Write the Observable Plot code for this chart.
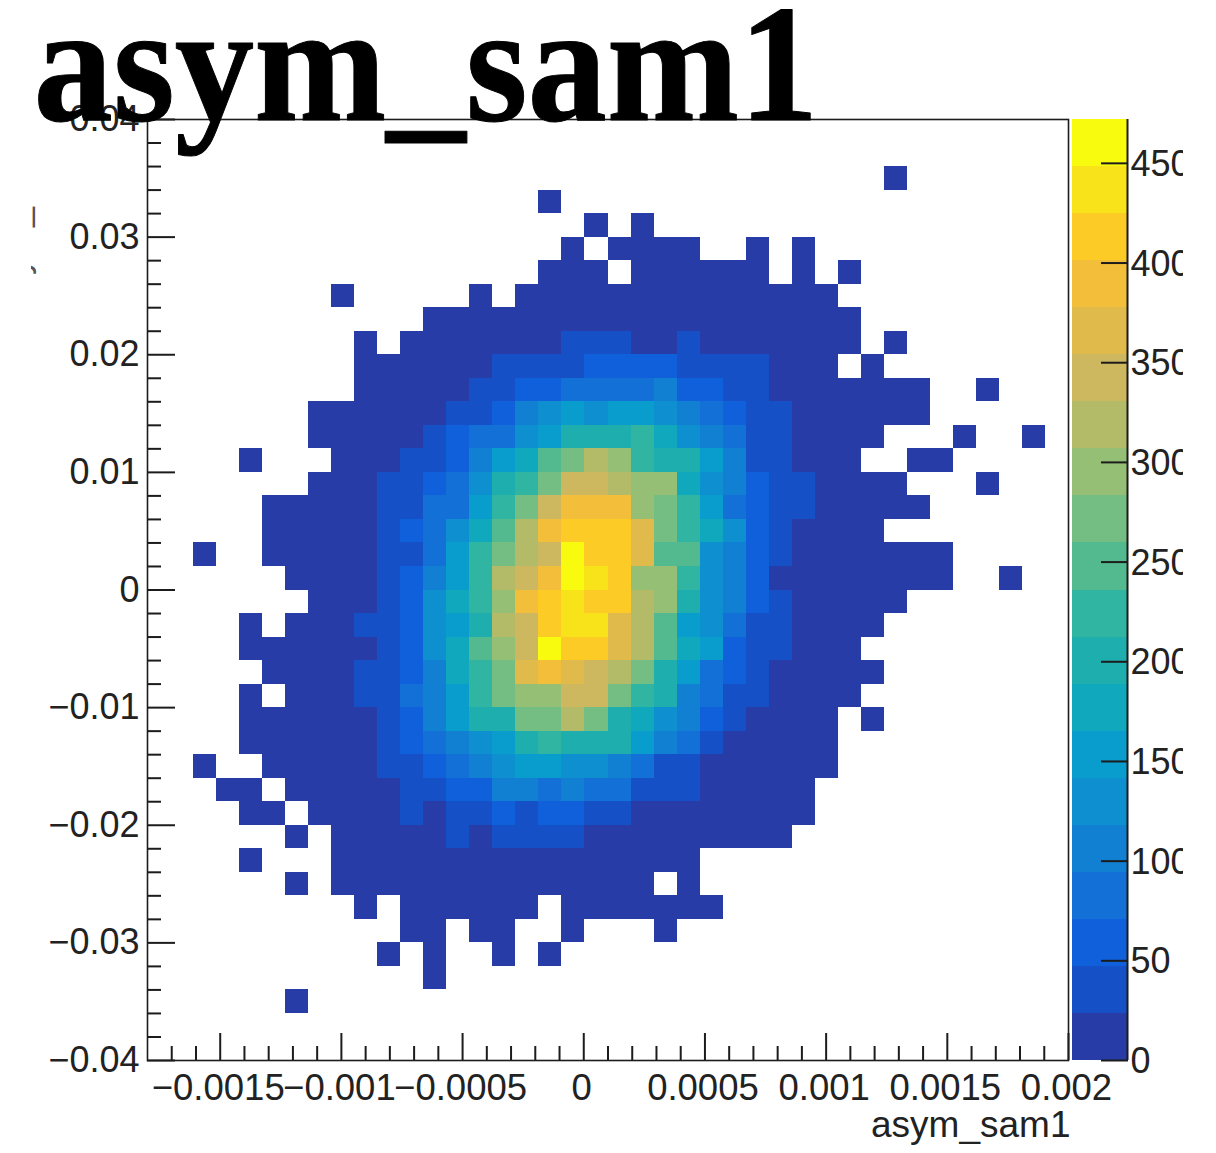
<!DOCTYPE html>
<html>
<head>
<meta charset="utf-8">
<script src="https://cdn.jsdelivr.net/npm/d3@7"></script>
<script src="https://cdn.jsdelivr.net/npm/@observablehq/plot@0.6"></script>
<style>
html,body{margin:0;padding:0;background:#fff;overflow:hidden}
#page{position:relative;width:1216px;height:1153px;overflow:hidden}
#plot,#bar,#ylab{position:absolute;overflow:hidden}
#plot{left:0;top:0}
#bar{left:1072px;top:0;width:111px;height:1153px}
#ylab{left:31px;top:100px;width:6px;height:200px}
#ylab span{position:absolute;left:-36px;top:19px;font:36px "Liberation Sans";white-space:nowrap;color:#555;transform-origin:0 0;transform:rotate(-90deg) translateX(-100%)}
</style>
</head>
<body>
<div id="page"><div id="plot"></div><div id="ylab"><span>asym_sam1</span></div><div id="bar"></div></div>
<script>
const titleText = "asym_sam1";
const xTitle = "asym_sam1";
const xMajor = [-0.0015,-0.001,-0.0005,0,0.0005,0.001,0.0015,0.002];
const xMinor = [-0.0017,-0.0016,-0.0014,-0.0013,-0.0012,-0.0011,-0.0009,-0.0008,-0.0007,-0.0006,-0.0004,-0.0003,-0.0002,-0.0001,0.0001,0.0002,0.0003,0.0004,0.0006,0.0007,0.0008,0.0009,0.0011,0.0012,0.0013,0.0014,0.0016,0.0017,0.0018,0.0019];
const yMajor = [-0.04,-0.03,-0.02,-0.01,0,0.01,0.02,0.03,0.04];
const yMinor = [-0.038,-0.036,-0.034,-0.032,-0.028,-0.026,-0.024,-0.022,-0.018,-0.016,-0.014,-0.012,-0.008,-0.006,-0.004,-0.002,0.002,0.004,0.006,0.008,0.012,0.014,0.016,0.018,0.022,0.024,0.026,0.028,0.032,0.034,0.036,0.038];
const zTicks = [0,50,100,150,200,250,300,350,400,450];
const xDomain = [-0.0018,0.002];
const yDomain = [-0.04,0.04];
const zMax = 472;
const nBins = 40;

// count of a cell in each of the 20 contour bands
const levelCounts = [12,35,59,83,106,130,153,177,200,224,248,271,295,319,342,366,389,413,436,460];
const contourLevels = [24,47,71,94,118,142,165,189,212,236,260,283,307,330,354,378,401,425,448];
const palette = ["#273ca6","#1550c6","#0f60da","#1270d6","#1180d3","#0e8fd0","#089dcc","#0fa8bd","#1eaeae","#30b5a2","#53b98f","#75be83","#96bf76","#b3bb69","#cdb75f","#e0ba4b","#f3be39","#fccb26","#f8e31b","#f9fb0e"];

// runs per row, top row first: [first bin, last bin, contour band]
const row02 = [[32,32,0]];
const row03 = [[17,17,0]];
const row04 = [[19,19,0],[21,21,0]];
const row05 = [[18,18,0],[20,23,0],[26,26,0],[28,28,0]];
const row06 = [[17,19,0],[21,26,0],[28,28,0],[30,30,0]];
const row07 = [[8,8,0],[14,14,0],[16,29,0]];
const row08 = [[12,30,0]];
const row09 = [[9,9,0],[11,17,0],[18,20,1],[21,22,0],[23,23,1],[24,30,0],[32,32,0]];
const row10 = [[9,14,0],[15,18,1],[19,22,2],[23,26,1],[27,29,0],[31,31,0]];
const row11 = [[9,13,0],[14,15,1],[16,17,2],[18,21,3],[22,22,4],[23,24,2],[25,26,1],[27,33,0],[36,36,0]];
const row12 = [[7,12,0],[13,14,1],[15,15,2],[16,16,4],[17,17,5],[18,18,6],[19,19,5],[20,21,6],[22,22,5],[23,23,4],[24,24,3],[25,25,2],[26,27,1],[28,33,0]];
const row13 = [[7,11,0],[12,12,1],[13,13,2],[14,15,3],[16,16,5],[17,17,6],[18,20,8],[21,21,9],[22,22,7],[23,23,5],[24,24,4],[25,25,3],[26,27,1],[28,31,0],[35,35,0],[38,38,0]];
const row14 = [[4,4,0],[8,10,0],[11,12,1],[13,13,2],[14,14,4],[15,15,6],[16,16,7],[17,17,10],[18,18,11],[19,19,13],[20,20,12],[21,21,9],[22,23,8],[24,24,6],[25,25,4],[26,27,1],[28,30,0],[33,34,0]];
const row15 = [[7,9,0],[10,11,1],[12,12,2],[13,13,3],[14,14,5],[15,15,8],[16,16,9],[17,17,11],[18,19,14],[20,20,13],[21,22,12],[23,23,7],[24,24,5],[25,25,4],[26,26,2],[27,28,1],[29,32,0],[36,36,0]];
const row16 = [[5,9,0],[10,11,1],[12,12,3],[13,13,3],[14,14,6],[15,15,9],[16,16,11],[17,17,14],[18,20,16],[21,21,12],[22,22,11],[23,23,9],[24,24,6],[25,25,3],[26,26,2],[27,28,1],[29,33,0]];
const row17 = [[5,9,0],[10,10,1],[11,11,2],[12,12,3],[13,13,5],[14,14,7],[15,15,10],[16,16,13],[17,17,16],[18,20,17],[21,21,15],[22,22,11],[23,23,9],[24,24,7],[25,25,5],[26,26,2],[27,27,1],[28,31,0]];
const row18 = [[2,2,0],[5,9,0],[10,11,1],[12,12,3],[13,13,6],[14,14,9],[15,15,11],[16,16,13],[17,17,14],[18,18,19],[19,20,17],[21,21,15],[22,23,10],[24,24,5],[25,25,4],[26,26,2],[27,27,1],[28,34,0]];
const row19 = [[6,9,0],[10,10,1],[11,11,2],[12,12,4],[13,13,6],[14,14,9],[15,15,13],[16,16,14],[17,17,16],[18,18,19],[19,19,18],[20,20,17],[21,22,12],[23,23,9],[24,24,5],[25,25,4],[26,26,2],[27,34,0],[37,37,0]];
const row20 = [[7,9,0],[10,10,1],[11,11,2],[12,12,5],[13,13,7],[14,14,9],[15,15,12],[16,16,16],[17,17,17],[18,18,18],[19,20,17],[21,21,13],[22,22,12],[23,23,8],[24,24,5],[25,25,4],[26,26,2],[27,27,1],[28,32,0]];
const row21 = [[4,4,0],[6,8,0],[9,10,1],[11,11,2],[12,12,5],[13,13,6],[14,14,8],[15,15,13],[16,16,14],[17,17,17],[18,19,18],[20,20,15],[21,21,13],[22,22,10],[23,23,6],[24,24,5],[25,25,3],[26,27,1],[28,31,0]];
const row22 = [[4,9,0],[10,10,1],[11,11,2],[12,12,5],[13,13,7],[14,14,10],[15,15,12],[16,16,14],[17,17,19],[18,19,17],[20,20,15],[21,21,13],[22,22,10],[23,23,7],[24,24,6],[25,25,2],[26,27,1],[28,30,0]];
const row23 = [[5,8,0],[9,10,1],[11,11,2],[12,12,4],[13,13,7],[14,14,9],[15,15,11],[16,16,15],[17,17,16],[18,18,15],[19,19,14],[20,20,13],[21,21,11],[22,22,8],[23,23,6],[24,24,3],[25,25,2],[26,26,1],[27,31,0]];
const row24 = [[4,4,0],[6,8,0],[9,10,1],[11,11,3],[12,12,4],[13,13,6],[14,14,9],[15,15,11],[16,17,12],[18,19,14],[20,20,11],[21,21,9],[22,22,8],[23,23,4],[24,24,3],[25,26,1],[27,30,0]];
const row25 = [[4,9,0],[10,10,1],[11,11,2],[12,12,4],[13,13,6],[14,15,8],[16,17,11],[18,18,13],[19,19,11],[20,20,8],[21,21,7],[22,22,5],[23,23,4],[24,24,2],[25,25,1],[26,29,0],[31,31,0]];
const row26 = [[4,9,0],[10,10,1],[11,11,2],[12,12,3],[13,13,4],[14,14,5],[15,15,6],[16,16,8],[17,17,9],[18,20,8],[21,21,6],[22,22,4],[23,23,3],[24,24,1],[25,29,0]];
const row27 = [[2,2,0],[5,9,0],[10,11,1],[12,12,2],[13,13,3],[14,14,4],[15,15,5],[16,17,6],[18,19,5],[20,20,4],[21,21,3],[22,23,1],[24,29,0]];
const row28 = [[3,4,0],[6,10,0],[11,12,1],[13,14,2],[15,16,4],[17,17,3],[18,18,4],[19,20,3],[21,23,1],[24,28,0]];
const row29 = [[4,5,0],[7,10,0],[11,11,1],[12,12,0],[13,14,1],[15,15,2],[16,16,1],[17,18,2],[19,20,1],[21,28,0]];
const row30 = [[6,6,0],[8,12,0],[13,13,1],[14,14,0],[15,18,1],[19,27,0]];
const row31 = [[4,4,0],[8,23,0]];
const row32 = [[6,6,0],[8,21,0],[23,23,0]];
const row33 = [[9,9,0],[11,16,0],[18,24,0]];
const row34 = [[11,12,0],[14,15,0],[18,18,0],[22,22,0]];
const row35 = [[10,10,0],[12,12,0],[15,15,0],[17,17,0]];
const row36 = [[12,12,0]];
const row37 = [[6,6,0]];

const rows = {2:row02,3:row03,4:row04,5:row05,6:row06,7:row07,8:row08,9:row09,10:row10,11:row11,12:row12,13:row13,14:row14,15:row15,16:row16,17:row17,18:row18,19:row19,20:row20,21:row21,22:row22,23:row23,24:row24,25:row25,26:row26,27:row27,28:row28,29:row29,30:row30,31:row31,32:row32,33:row33,34:row34,35:row35,36:row36,37:row37};

const dx = (xDomain[1]-xDomain[0])/nBins, dy = (yDomain[1]-yDomain[0])/nBins;
const cells = [];
for (const [r, runs] of Object.entries(rows)) {
  for (const [first, last, band] of runs) {
    for (let c = first; c <= last; c++) {
      cells.push({
        x1: xDomain[0]+c*dx, x2: xDomain[0]+(c+1)*dx,
        y1: yDomain[1]-(+r)*dy, y2: yDomain[1]-(+r+1)*dy,
        count: levelCounts[band]
      });
    }
  }
}
const colorScale = {type:"threshold", domain:contourLevels, range:palette};
const minus = v => String(v).replace("-","\u2212");
const ink = "#1c1c1c";

const main = Plot.plot({
  width:1216, height:1153,
  marginLeft:147, marginRight:148, marginTop:119, marginBottom:93,
  style:{fontFamily:"'Liberation Sans'", fontSize:"36px", background:"transparent", overflow:"visible"},
  x:{domain:xDomain, label:null},
  y:{domain:yDomain, label:null},
  color:colorScale,
  marks:[
    Plot.rect(cells,{x1:"x1",x2:"x2",y1:"y1",y2:"y2",fill:"count",shapeRendering:"crispEdges"}),
    Plot.frame({stroke:ink,strokeWidth:1.6}),
    Plot.axisX(xMinor,{anchor:"bottom",tickSize:-14,fill:"none",stroke:ink,strokeWidth:2,label:null}),
    Plot.axisX(xMajor,{anchor:"bottom",tickSize:-27,fill:"none",stroke:ink,strokeWidth:2,label:null}),
    Plot.axisX(xMajor,{anchor:"bottom",tickSize:0,tickPadding:14,tickFormat:minus,dx:-2,fontSize:36.5,fill:"#222",label:null}),
    Plot.axisY(yMinor,{anchor:"left",tickSize:-14,fill:"none",stroke:ink,strokeWidth:2,label:null}),
    Plot.axisY(yMajor,{anchor:"left",tickSize:-28,tickPadding:36,tickFormat:minus,stroke:ink,strokeWidth:2,fill:"#222",label:null}),
    Plot.text([xTitle],{frameAnchor:"bottom-right",textAnchor:"end",lineAnchor:"bottom",dy:76,dx:2,fontSize:37,fill:"#222"}),
    Plot.text([titleText],{frameAnchor:"top-left",textAnchor:"start",lineAnchor:"bottom",dx:-114,dy:0,fontSize:167,fontWeight:"bold",fontFamily:"'Liberation Serif'",fill:"#000",stroke:"#000",strokeWidth:1})
  ]
});
const titleNode = [...main.querySelectorAll("text")].filter(t => t.textContent === titleText).pop();
titleNode.setAttribute("textLength","785");
titleNode.setAttribute("lengthAdjust","spacingAndGlyphs");
document.getElementById("plot").append(main);

const bands = palette.map((p,i)=>({y1:i*zMax/20,y2:(i+1)*zMax/20,count:levelCounts[i]}));
const bar = Plot.plot({
  width:111, height:1153,
  marginLeft:0, marginRight:56, marginTop:119, marginBottom:93,
  style:{fontFamily:"'Liberation Sans'", fontSize:"36px", background:"transparent"},
  x:{domain:[0,1], axis:null},
  y:{domain:[0,zMax], label:null},
  color:colorScale,
  marks:[
    Plot.rect(bands,{x1:0,x2:1,y1:"y1",y2:"y2",fill:"count",shapeRendering:"crispEdges"}),
    Plot.ruleX([1],{stroke:ink,strokeWidth:2}),
    Plot.axisY(zTicks,{anchor:"right",tickSize:-27,fill:"none",stroke:ink,strokeWidth:2,label:null}),
    Plot.axisY(zTicks,{anchor:"right",tickSize:0,tickPadding:3,dy:1,fill:"#222",label:null})
  ]
});
document.getElementById("bar").append(bar);
</script>
</body>
</html>
